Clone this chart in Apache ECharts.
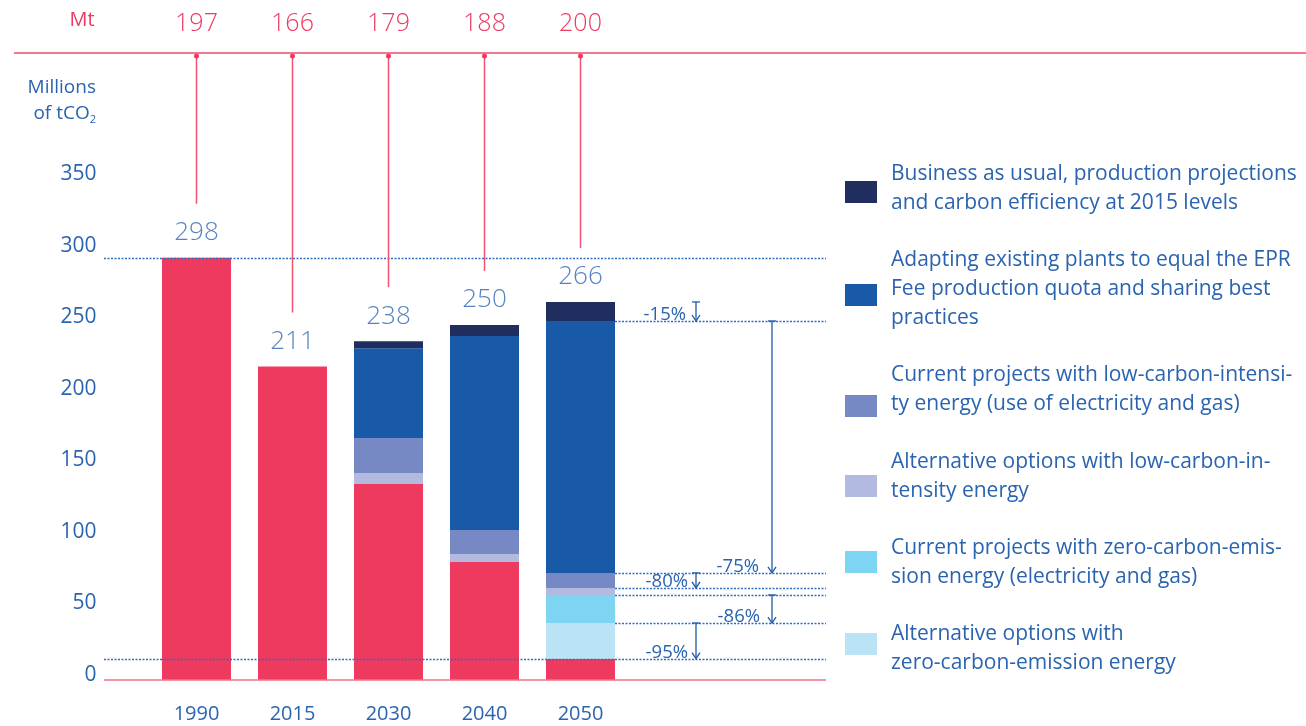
<!DOCTYPE html>
<html>
<head>
<meta charset="utf-8">
<script src="https://cdn.jsdelivr.net/npm/echarts@6/dist/echarts.min.js"></script>
<style>
  html, body { margin: 0; padding: 0; background: #fff; }
  #main { width: 1306px; height: 726px; }
</style>
</head>
<body>
<div id="main"></div>
<script>
// years and the numbers printed above the bars
var years = ['1990', '2015', '2030', '2040', '2050'];
var totals = [298, 211, 238, 250, 266];
var mtValues = [197, 166, 179, 188, 200];
var yTicks = [0, 50, 100, 150, 200, 250, 300, 350];

// stacked segments, bottom to top
var remaining  = [295, 219, 137, 82.4, 14.9];
var altZero    = [0, 0, 0, 0, 24.9];
var curZero    = [0, 0, 0, 0, 19.6];
var altLow     = [0, 0, 7.5, 5.6, 4.9];
var curLow     = [0, 0, 24.5, 16.8, 10.5];
var adapting   = [0, 0, 62.8, 135.5, 176];
var bau        = [0, 0, 4.9, 7.7, 13.3];

var pctLabels = ['-15%', '-75%', '-80%', '-86%', '-95%'];

var blueText = '#2A64B0';
var pink = '#EE3A5E';
var font = 'Open Sans';
var weight = 400;
var bigWeight = 300;

var seriesDefs = [
    {name: 'remaining', data: remaining, color: pink},
    {name: 'altZero', data: altZero, color: '#BAE4F5'},
    {name: 'curZero', data: curZero, color: '#7DD4F3'},
    {name: 'altLow', data: altLow, color: '#B2BADF'},
    {name: 'curLow', data: curLow, color: '#7689C5'},
    {name: 'adapting', data: adapting, color: '#1859A8'},
    {name: 'bau', data: bau, color: '#1F2D5F'}
];

// legend, top to bottom: swatch top and text block top
var legendItems = [
    {name: 'bau', text: 'Business as usual, production projections\nand carbon efficiency at 2015 levels', box: 181, txt: 160},
    {name: 'adapting', text: 'Adapting existing plants to equal the EPR\nFee production quota and sharing best\npractices', box: 284, txt: 246},
    {name: 'curLow', text: 'Current projects with low-carbon-intensi-\nty energy (use of electricity and gas)', box: 395, txt: 361},
    {name: 'altLow', text: 'Alternative options with low-carbon-in-\ntensity energy', box: 475, txt: 448},
    {name: 'curZero', text: 'Current projects with zero-carbon-emis-\nsion energy (electricity and gas)', box: 551, txt: 534},
    {name: 'altZero', text: 'Alternative options with\nzero-carbon-emission energy', box: 633, txt: 620}
];

var stackTop = years.map(function(y, i) {
    var s = 0;
    seriesDefs.forEach(function(d) { s += d.data[i]; });
    return s;
});

var series = seriesDefs.map(function(d) {
    return {
        name: d.name,
        type: 'bar',
        stack: 'total',
        barWidth: 69,
        itemStyle: {color: d.color},
        data: d.data,
        silent: true
    };
});
series.push({
    name: 'totals',
    type: 'scatter',
    symbolSize: 0,
    silent: true,
    data: stackTop,
    label: {
        show: true,
        position: 'top',
        distance: 12,
        fontFamily: font,
        fontWeight: bigWeight,
        fontSize: 26,
        color: blueText,
        formatter: function(p) { return totals[p.dataIndex]; }
    }
});

// one legend per item so each swatch sits where the picture has it
var legends = legendItems.map(function(it) {
    return {
        left: 845,
        top: it.box,
        padding: 0,
        itemWidth: 32,
        itemHeight: 22,
        icon: 'rect',
        selectedMode: false,
        data: [it.name],
        formatter: function() { return ''; },
        textStyle: {fontSize: 1}
    };
});

var option = {
    animation: false,
    backgroundColor: '#fff',
    grid: {left: 148.5, right: 677.5, top: 179, bottom: 46},
    xAxis: {
        type: 'category',
        data: years,
        axisLine: {show: false},
        axisTick: {show: false},
        axisLabel: {
            margin: 24,
            fontFamily: font,
            fontWeight: weight,
            fontSize: 20,
            color: blueText
        }
    },
    yAxis: {
        type: 'value',
        min: yTicks[0],
        max: yTicks[yTicks.length - 1],
        interval: 50,
        splitLine: {show: false},
        axisLine: {show: false},
        axisTick: {show: false},
        axisLabel: {
            margin: 52,
            fontFamily: font,
            fontWeight: weight,
            fontSize: 21,
            color: blueText,
            verticalAlign: 'bottom',
            lineHeight: 10
        }
    },
    legend: legends,
    series: series
};

var chart = echarts.init(document.getElementById('main'));
chart.setOption(option);

// annotations placed through the chart's own scales
function px(i) { return chart.convertToPixel({xAxisIndex: 0}, i); }
function py(v) { return chart.convertToPixel({yAxisIndex: 0}, v); }

var dotBlue = '#2E6DBF';
var arrowBlue = '#1F5AA8';
var g = [];

function dotted(x1, x2, v) {
    var y = Math.round(py(v)) + 0.5;
    g.push({type: 'line', z: 50, shape: {x1: x1, y1: y, x2: x2, y2: y},
        style: {stroke: dotBlue, lineWidth: 1.3, lineDash: [2, 1.5]}});
}
function arrow(x, v1, v2) {
    var y1 = py(v1), y2 = py(v2);
    g.push({type: 'line', z: 50, shape: {x1: x, y1: y1, x2: x, y2: y2 - 0.5}, style: {stroke: arrowBlue, lineWidth: 1.3}});
    g.push({type: 'line', z: 50, shape: {x1: x - 4, y1: y1, x2: x + 4, y2: y1}, style: {stroke: arrowBlue, lineWidth: 1.3}});
    g.push({type: 'polyline', z: 50, shape: {points: [[x - 4, y2 - 6], [x, y2], [x + 4, y2 - 6]]},
        style: {stroke: arrowBlue, lineWidth: 1.3, fill: null}});
}
function pctText(xRight, v, txt) {
    g.push({type: 'text', z: 50, x: xRight, y: py(v) - 6,
        style: {text: txt, align: 'right', verticalAlign: 'middle', fontFamily: font, fontWeight: weight, fontSize: 18.5, fill: blueText}});
}

// cumulative boundaries in the 2050 bar
var last = years.length - 1;
var cum = [];
var acc = 0;
seriesDefs.forEach(function(d) { acc += d.data[last]; cum.push(acc); });
// cum: [red, +altZero, +curZero, +altLow, +curLow, +adapting, +bau]

var barRight = px(last) + 34.5;
dotted(104, 826, remaining[0]);
dotted(104, 826, cum[0]);
[cum[1], cum[2], cum[3], cum[4], cum[5]].forEach(function(v) { dotted(barRight, 826, v); });

// baseline
var y0 = py(0);
g.push({type: 'line', z: 50, shape: {x1: 104, y1: y0, x2: 826, y2: y0}, style: {stroke: '#F2758F', lineWidth: 1.5}});

arrow(696, cum[6], cum[5]);
arrow(772, cum[5], cum[4]);
arrow(696, cum[4], cum[3]);
arrow(772, cum[2], cum[1]);
arrow(696, cum[1], cum[0]);
pctText(686, cum[5], pctLabels[0]);
pctText(759, cum[4], pctLabels[1]);
pctText(688, cum[3], pctLabels[2]);
pctText(760, cum[1], pctLabels[3]);
pctText(688, cum[0], pctLabels[4]);

// top Mt row
g.push({type: 'line', z: 50, shape: {x1: 14, y1: 53, x2: 1306, y2: 53}, style: {stroke: '#EE4B6A', lineWidth: 1.5}});
g.push({type: 'text', z: 50, x: 82, y: 20, style: {text: 'Mt', align: 'center', verticalAlign: 'middle',
    fontFamily: font, fontWeight: weight, fontSize: 20, fill: pink}});
years.forEach(function(yr, i) {
    var x = px(i);
    g.push({type: 'text', z: 50, x: x, y: 24, style: {text: String(mtValues[i]), align: 'center', verticalAlign: 'middle',
        fontFamily: font, fontWeight: bigWeight, fontSize: 25, fill: pink}});
    g.push({type: 'line', z: 50, shape: {x1: x, y1: 56, x2: x, y2: py(stackTop[i]) - 54}, style: {stroke: '#EE5373', lineWidth: 1.5}});
    g.push({type: 'circle', z: 51, shape: {cx: x, cy: 56, r: 2.5}, style: {fill: '#EE3A5E'}});
});

// unit label
g.push({type: 'text', z: 50, x: 96, y: 88, style: {text: 'Millions', align: 'right', verticalAlign: 'middle',
    fontFamily: font, fontWeight: weight, fontSize: 19, fill: blueText}});
g.push({type: 'text', z: 50, x: 96, y: 114, style: {text: 'of tCO{s|2}', align: 'right', verticalAlign: 'middle',
    fontFamily: font, fontWeight: weight, fontSize: 19, fill: blueText,
    rich: {s: {fontFamily: font, fontSize: 11, fill: blueText, padding: [12, 0, 0, 0]}}}});

// legend texts
legendItems.forEach(function(it) {
    g.push({type: 'text', z: 50, x: 891, y: it.txt, style: {text: it.text, align: 'left', verticalAlign: 'top',
        fontFamily: font, fontWeight: weight, fontSize: 21, lineHeight: 29, fill: blueText}});
});

chart.setOption({graphic: g});
</script>
</body>
</html>
